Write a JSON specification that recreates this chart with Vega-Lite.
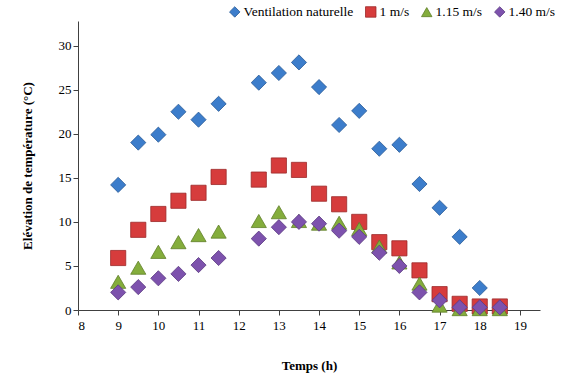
{
  "$schema": "https://vega.github.io/schema/vega-lite/v6.json",
  "width": 462,
  "height": 289,
  "autosize": {"type": "none"},
  "padding": {"left": 78, "top": 21, "right": 28, "bottom": 64},
  "background": "white",
  "config": {
    "view": {"stroke": null},
    "font": "Liberation Serif",
    "legend": {"labelFont": "Liberation Serif", "labelFontSize": 13.5, "labelColor": "#000"},
    "axis": {"grid": false, "domainColor": "#404040", "tickColor": "#404040", "labelColor": "#000", "labelFont": "Liberation Serif", "labelFontSize": 13, "titleFont": "Liberation Serif", "titleFontSize": 13, "titleFontWeight": "bold", "titleColor": "#000", "tickSize": 5}
  },
  "data": {"values": [
    {"t": 9, "v": 14.2, "s": "Ventilation naturelle"},
    {"t": 9.5, "v": 19.0, "s": "Ventilation naturelle"},
    {"t": 10, "v": 19.9, "s": "Ventilation naturelle"},
    {"t": 10.5, "v": 22.5, "s": "Ventilation naturelle"},
    {"t": 11, "v": 21.6, "s": "Ventilation naturelle"},
    {"t": 11.5, "v": 23.4, "s": "Ventilation naturelle"},
    {"t": 12.5, "v": 25.8, "s": "Ventilation naturelle"},
    {"t": 13, "v": 26.9, "s": "Ventilation naturelle"},
    {"t": 13.5, "v": 28.1, "s": "Ventilation naturelle"},
    {"t": 14, "v": 25.3, "s": "Ventilation naturelle"},
    {"t": 14.5, "v": 21.0, "s": "Ventilation naturelle"},
    {"t": 15, "v": 22.6, "s": "Ventilation naturelle"},
    {"t": 15.5, "v": 18.3, "s": "Ventilation naturelle"},
    {"t": 16, "v": 18.75, "s": "Ventilation naturelle"},
    {"t": 16.5, "v": 14.3, "s": "Ventilation naturelle"},
    {"t": 17, "v": 11.6, "s": "Ventilation naturelle"},
    {"t": 17.5, "v": 8.3, "s": "Ventilation naturelle"},
    {"t": 18, "v": 2.5, "s": "Ventilation naturelle"},
    {"t": 9, "v": 5.9, "s": "1 m/s"},
    {"t": 9.5, "v": 9.1, "s": "1 m/s"},
    {"t": 10, "v": 10.9, "s": "1 m/s"},
    {"t": 10.5, "v": 12.4, "s": "1 m/s"},
    {"t": 11, "v": 13.3, "s": "1 m/s"},
    {"t": 11.5, "v": 15.1, "s": "1 m/s"},
    {"t": 12.5, "v": 14.8, "s": "1 m/s"},
    {"t": 13, "v": 16.4, "s": "1 m/s"},
    {"t": 13.5, "v": 15.9, "s": "1 m/s"},
    {"t": 14, "v": 13.2, "s": "1 m/s"},
    {"t": 14.5, "v": 12.0, "s": "1 m/s"},
    {"t": 15, "v": 10.0, "s": "1 m/s"},
    {"t": 15.5, "v": 7.7, "s": "1 m/s"},
    {"t": 16, "v": 7.0, "s": "1 m/s"},
    {"t": 16.5, "v": 4.5, "s": "1 m/s"},
    {"t": 17, "v": 1.8, "s": "1 m/s"},
    {"t": 17.5, "v": 0.7, "s": "1 m/s"},
    {"t": 18, "v": 0.4, "s": "1 m/s"},
    {"t": 18.5, "v": 0.4, "s": "1 m/s"},
    {"t": 9, "v": 3.2, "s": "1.15 m/s"},
    {"t": 9.5, "v": 4.8, "s": "1.15 m/s"},
    {"t": 10, "v": 6.6, "s": "1.15 m/s"},
    {"t": 10.5, "v": 7.7, "s": "1.15 m/s"},
    {"t": 11, "v": 8.5, "s": "1.15 m/s"},
    {"t": 11.5, "v": 8.9, "s": "1.15 m/s"},
    {"t": 12.5, "v": 10.1, "s": "1.15 m/s"},
    {"t": 13, "v": 11.1, "s": "1.15 m/s"},
    {"t": 13.5, "v": 10.1, "s": "1.15 m/s"},
    {"t": 14, "v": 9.8, "s": "1.15 m/s"},
    {"t": 14.5, "v": 9.9, "s": "1.15 m/s"},
    {"t": 15, "v": 9.2, "s": "1.15 m/s"},
    {"t": 15.5, "v": 7.2, "s": "1.15 m/s"},
    {"t": 16, "v": 5.4, "s": "1.15 m/s"},
    {"t": 16.5, "v": 3.0, "s": "1.15 m/s"},
    {"t": 17, "v": 0.5, "s": "1.15 m/s"},
    {"t": 17.5, "v": 0.1, "s": "1.15 m/s"},
    {"t": 18, "v": 0.1, "s": "1.15 m/s"},
    {"t": 18.5, "v": 0.1, "s": "1.15 m/s"},
    {"t": 9, "v": 2.0, "s": "1.40 m/s"},
    {"t": 9.5, "v": 2.6, "s": "1.40 m/s"},
    {"t": 10, "v": 3.6, "s": "1.40 m/s"},
    {"t": 10.5, "v": 4.1, "s": "1.40 m/s"},
    {"t": 11, "v": 5.1, "s": "1.40 m/s"},
    {"t": 11.5, "v": 5.9, "s": "1.40 m/s"},
    {"t": 12.5, "v": 8.1, "s": "1.40 m/s"},
    {"t": 13, "v": 9.4, "s": "1.40 m/s"},
    {"t": 13.5, "v": 10.0, "s": "1.40 m/s"},
    {"t": 14, "v": 9.8, "s": "1.40 m/s"},
    {"t": 14.5, "v": 9.0, "s": "1.40 m/s"},
    {"t": 15, "v": 8.3, "s": "1.40 m/s"},
    {"t": 15.5, "v": 6.5, "s": "1.40 m/s"},
    {"t": 16, "v": 5.0, "s": "1.40 m/s"},
    {"t": 16.5, "v": 2.0, "s": "1.40 m/s"},
    {"t": 17, "v": 1.1, "s": "1.40 m/s"},
    {"t": 17.5, "v": 0.3, "s": "1.40 m/s"},
    {"t": 18, "v": 0.3, "s": "1.40 m/s"},
    {"t": 18.5, "v": 0.3, "s": "1.40 m/s"}
  ]},
  "mark": {"type": "point", "filled": true, "opacity": 1, "strokeWidth": 0.8},
  "encoding": {
    "x": {"field": "t", "type": "quantitative", "title": "Temps (h)", "scale": {"domain": [8, 19.5], "nice": false, "zero": false}, "axis": {"values": [8,9,10,11,12,13,14,15,16,17,18,19], "titlePadding": 27, "labelPadding": 4}},
    "y": {"field": "v", "type": "quantitative", "title": "Elévation de température (°C)", "scale": {"domain": [0, 32.8], "nice": false}, "axis": {"values": [0,5,10,15,20,25,30], "titlePadding": 24}},
    "color": {"field": "s", "type": "nominal", "sort": ["Ventilation naturelle", "1 m/s", "1.15 m/s", "1.40 m/s"], "scale": {"domain": ["Ventilation naturelle", "1 m/s", "1.15 m/s", "1.40 m/s"], "range": ["#3c7dcb", "#d63c3c", "#84ad3c", "#7d52ad"]}, "legend": {"title": null, "orient": "none", "direction": "horizontal", "legendX": 150, "legendY": -16, "labelFont": "Liberation Serif", "labelFontSize": 13.5, "labelColor": "#000", "columnPadding": 9, "symbolSize": 110, "labelOffset": 2, "symbolStrokeWidth": 0.8}},
    "shape": {"field": "s", "type": "nominal", "scale": {"domain": ["Ventilation naturelle", "1 m/s", "1.15 m/s", "1.40 m/s"], "range": ["diamond", "square", "triangle-up", "diamond"]}},
    "stroke": {"field": "s", "type": "nominal", "scale": {"domain": ["Ventilation naturelle", "1 m/s", "1.15 m/s", "1.40 m/s"], "range": ["#2a5a96", "#9c2a2a", "#5f7f28", "#5a3a80"]}, "legend": null},
    "size": {"value": 230}
  }
}
